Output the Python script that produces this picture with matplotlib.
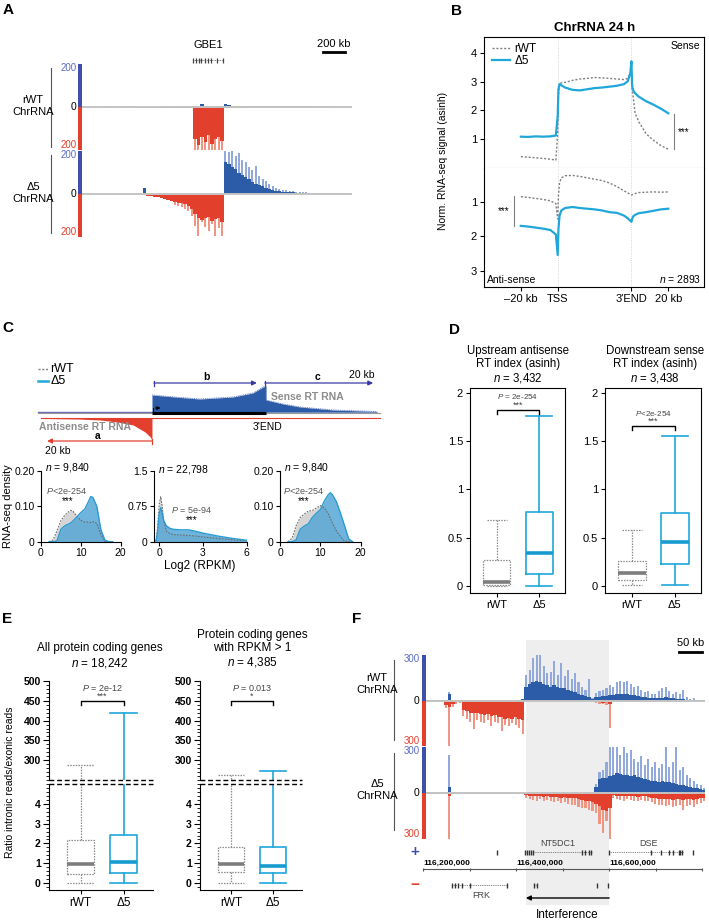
import numpy as np
import matplotlib.pyplot as plt
from matplotlib.patches import Rectangle
from matplotlib.lines import Line2D
from matplotlib.ticker import AutoMinorLocator

plt.rcParams['font.family'] = ['Liberation Sans', 'DejaVu Sans']
plt.rcParams['mathtext.fontset'] = 'custom'
plt.rcParams['mathtext.rm'] = 'Liberation Sans'
plt.rcParams['mathtext.it'] = 'Liberation Sans:italic'
plt.rcParams['axes.linewidth'] = 0.8

# ---------------- data ----------------
# A: GBE1 locus, 30 kb bins (values on a 0-200 scale)
a_bin = 30
a_rwt_plus = [1,0,1,1,0,1,2,1,1,0,1,2,1,1,3,1,1,2,1,1,2,1,1,3,2,1,2,1,2,3,2,2,3,
              3,2,15,4,3,2,2,3,4,
              14,7,6,5,6,5,5,4,5,4,4,5,4,3,4,4,3,4,3,3,4,3,3,3,4,3,3,3,2,3,3,2,3,2,2,3,2,2]
a_rwt_minus = [1,1,0,1,2,1,1,2,3,1,2,2,1,3,2,2,3,2,3,2,4,3,2,3,4,3,4,3,4,5,4,5,6,
               150,175,140,165,130,170,150,140,160,
               4,3,2,3,2,2,3,2,2,1,2,2,1,2,1,2,2,1,2,1,1,2,1,2,1,1,2,1,1,2,1,1,1,2,1,1,1,1]
a_rwt_minus_pk = [0]*33 + [200,200,200,200,200,200,200,200,200] + [0]*38
a_d5_plus = [1,1,2,1,1,2,1,2,1,1,2,2,1,1,2,1,2,1,30,2,1,2,1,2,3,1,2,1,2,2,1,2,1,
             2,1,2,1,2,2,1,2,2,
             150,140,125,115,100,90,80,68,58,48,42,36,30,24,19,16,13,11,9,8,
             7,6,6,5,5,4,4,4,4,3,4,3,3,3,3,3,2,2]
a_d5_plus_pk = [0]*42 + [200,195,200,175,190,160,150,125,110,130,85,72,60,48,36,30,25,20,17,15,
                         12,10,9,8,7,6,6,5,6,5,5,5,4,4,4,4,3,3]
a_d5_minus = [1,2,1,1,2,1,2,1,1,2,1,2,2,1,2,2,3,2,3,
              8,10,13,16,20,24,28,32,36,40,44,48,55,70,
              95,110,120,112,108,125,118,112,130,
              3,2,2,1,2,1,2,1,1,2,1,1,2,1,1,1,2,1,1,1,2,1,1,1,1,2,1,1,1,1,1,1,1,2,1,1,1,1]
a_d5_minus_pk = [0]*27 + [50,58,62,70,80,100] + [150,195,130,155,170,140,195,160,195] + [0]*38
gbe1_exons = [987, 1010, 1040, 1060, 1095, 1120, 1150, 1200, 1253]

# B: metagene profiles (x: -20kb=0, TSS=1, 3'END=3, +20kb=4)
b_x = [0, 0.2, 0.4, 0.6, 0.8, 0.95, 1.0, 1.02, 1.05, 1.1, 1.2, 1.4, 1.6, 1.8, 2.0,
       2.2, 2.4, 2.6, 2.8, 2.9, 2.97, 3.0, 3.02, 3.05, 3.1, 3.2, 3.4, 3.6, 3.8, 4.0]
b_sense_rwt = [0.38, 0.36, 0.34, 0.32, 0.29, 0.26, 1.2, 2.5, 2.95, 2.96, 2.98, 3.05, 3.1, 3.12, 3.15,
               3.14, 3.12, 3.1, 3.08, 3.12, 3.3, 3.45, 2.7, 2.45, 1.9, 1.6, 1.18, 0.95, 0.77, 0.64]
b_sense_d5 = [1.08, 1.07, 1.09, 1.08, 1.09, 1.12, 1.8, 2.75, 2.92, 2.88, 2.8, 2.72, 2.7, 2.74, 2.78,
              2.8, 2.83, 2.86, 2.92, 3.02, 3.3, 3.72, 2.85, 2.7, 2.6, 2.48, 2.32, 2.2, 2.06, 1.9]
b_anti_rwt = [0.85, 0.87, 0.9, 0.93, 0.97, 1.05, 1.5, 0.8, 0.45, 0.3, 0.24, 0.23, 0.26, 0.3, 0.34,
              0.38, 0.45, 0.55, 0.68, 0.74, 0.78, 0.8, 0.79, 0.78, 0.76, 0.73, 0.72, 0.71, 0.72, 0.71]
b_anti_d5 = [1.7, 1.72, 1.75, 1.78, 1.82, 1.95, 2.55, 1.8, 1.4, 1.25, 1.18, 1.15, 1.18, 1.2, 1.22,
             1.25, 1.3, 1.32, 1.4, 1.48, 1.55, 1.58, 1.5, 1.42, 1.38, 1.33, 1.3, 1.26, 1.22, 1.2]

# C: schematic shapes and density curves
sch_sense_x = [0.0, 0.0, 0.4, 0.84, 1.42, 1.77, 1.95, 2.0, 2.0, 2.3, 2.6, 3.18, 3.95]
sch_sense_y = [1, 18, 16, 14, 16, 20, 26, 27, 13, 9, 6, 3, 1.5]
sch_anti_x = [-1.9, -1.3, -0.91, -0.61, -0.33, -0.12, -0.03, 0.0, 0.0]
sch_anti_y = [-5.5, -6, -7, -9, -12, -19, -24, -27, -5.5]

c1_x = [2, 3, 4, 5, 6, 7, 7.5, 8, 9, 10, 11, 12, 12.5, 13, 14, 15, 16, 17, 18]
c1_rwt = [0, 0.005, 0.03, 0.06, 0.075, 0.085, 0.088, 0.086, 0.072, 0.06, 0.055, 0.055, 0.054,
          0.056, 0.052, 0.02, 0, 0, 0]
c1_d5 = [0, 0, 0.002, 0.035, 0.045, 0.05, 0.053, 0.058, 0.07, 0.082, 0.092, 0.115, 0.127,
         0.125, 0.1, 0.035, 0.005, 0, 0]
c2_x = [-0.4, -0.2, -0.1, 0.0, 0.1, 0.2, 0.3, 0.5, 0.75, 1.0, 1.5, 2.0, 2.5, 3.0, 3.5, 4.0,
        4.5, 5.0, 5.5, 6.0]
c2_rwt = [0, 0.05, 0.35, 0.8, 0.95, 0.75, 0.45, 0.22, 0.17, 0.15, 0.14, 0.13, 0.12, 0.1, 0.085,
          0.07, 0.055, 0.04, 0.03, 0.02]
c2_d5 = [0, 0.03, 0.25, 0.6, 0.72, 0.6, 0.45, 0.33, 0.28, 0.26, 0.25, 0.25, 0.22, 0.18, 0.15,
         0.12, 0.095, 0.07, 0.05, 0.03]
c3_x = [2, 3, 4, 5, 6, 7, 8, 9, 10, 11, 12, 12.5, 13, 14, 15, 16, 17, 18]
c3_rwt = [0, 0.01, 0.045, 0.068, 0.078, 0.086, 0.088, 0.095, 0.102, 0.095, 0.078, 0.065, 0.052,
          0.03, 0.014, 0.002, 0, 0]
c3_d5 = [0, 0, 0.005, 0.035, 0.044, 0.05, 0.068, 0.08, 0.09, 0.115, 0.133, 0.138, 0.132, 0.112,
         0.08, 0.045, 0.008, 0]

# D: box stats (whislo, q1, med, q3, whishi)
d1_rwt = [0.0, 0.005, 0.04, 0.27, 0.68]
d1_d5 = [0.0, 0.12, 0.34, 0.77, 1.76]
d2_rwt = [0.01, 0.06, 0.13, 0.26, 0.58]
d2_d5 = [0.01, 0.23, 0.45, 0.76, 1.55]

# E: box stats
e1_rwt = [0.0, 0.48, 0.98, 2.15, 288]
e1_d5 = [0.0, 0.52, 1.05, 2.45, 420]
e2_rwt = [0.0, 0.55, 0.95, 1.82, 262]
e2_d5 = [0.0, 0.5, 0.88, 1.82, 272]

# F: NT5DC1/DSE locus, 7.5 kb bins from 116,208 kb (values on a 0-300 scale)
f_start = 116208
f_bin = 7.5
f_rwt_plus = [1,1,2,1,1,3,45,3,1,1,2,1,1,2,1,1,2,1,1,2,1,1,1,2,1,1,2,10,
              90,110,120,130,120,110,100,90,100,90,85,80,70,65,55,45,35,30,25,
              10,22,25,28,30,35,38,42,45,40,45,38,35,30,25,20,18,15,18,15,
              15,20,18,15,12,10,8,6,3,2,2,2,2]
f_rwt_plus_pk = [0]*6 + [55] + [0]*21 + \
    [170,200,280,300,300,230,180,190,260,170,250,160,200,140,180,120,90,70,140] + \
    [15,50,60,70,80,100,90,125,130,125,130,110,90,95,70,55,60,40,45,60,
     80,90,60,45,55,40,70,25,10,15,5,5,5]
f_rwt_minus = [3,2,3,4,5, 30,40,25,12,10,
               60,70,80,85,80,90,95,90,100,95,110,110,120,115,120,110,120,130,
               2,1,2,1,1,2,1,1,2,1,1,2,1,2,1,1,2,2,3,4,
               8,12,15,12,20,
               2,1,1,2,1,1,1,2,1,1,2,1,1,1,2,1,1,1,1,2,1,1,1,1,1,2,1]
f_rwt_minus_pk = [0]*5 + [50,300,40,20,15] + \
    [100,120,140,190,130,140,150,130,170,140,150,200,160,170,150,160,180,220] + \
    [0]*20 + [15,20,25,30,180] + [0]*27
f_d5_plus = [3,2,3,2,4,3,40,4,3,2,3,2,2,3,2,2,3,2,2,3,2,2,3,2,2,3,2,3,
             3,4,3,4,3,3,4,3,4,3,3,4,3,3,4,3,3,4,3,4,
             40,90,95,100,110,120,130,125,120,115,110,120,105,95,90,85,80,80,75,80,
             75,70,65,60,55,50,45,40,35,30,25,20]
f_d5_plus_pk = [0]*6 + [250] + [0]*41 + \
    [60,140,150,200,300,300,300,250,300,260,280,220,200,240,180,220,170,200,160,190,
     300,170,200,300,150,170,120,100,80,60,50,35]
f_d5_minus = [5,4,6,5,4,8, 20,
              5,6,4,5,6,5,4,6,5,5,6,4,5,6,5,5,6,5,6,7,8,
              15,18,20,22,20,25,22,25,28,25,30,28,30,
              32,35,40,45,50,55,60,70,
              85,110,120,100,
              15,18,20,22,18,20,22,25,20,22,25,
              30,35,38,40,42,40,45,42,40,45,42,40,45,38,35,30]
f_d5_minus_pk = [0]*6 + [300] + [0]*21 + \
    [30,40,45,50,40,55,45,50,60,55,65,60,70] + [75,80,90,95,100,110,120,130] + \
    [200,260,180,300] + [35,40,45,50,40,45,50,55,45,50,55] + \
    [60,70,75,80,85,80,90,85,80,110,85,80,90,70,65,55]
f_shade = (116421, 116600)
f_plus_genes = [(116359, 116359, [116359]),
                (116419, 116566, [116419, 116423, 116428, 116432, 116437, 116541, 116548, 116556, 116562]),
                (116600, 116759, [116600, 116690, 116712, 116728, 116738, 116750, 116753, 116756]),
                (116781, 116781, [116781])]
f_minus_genes = [(116262, 116381, [116262, 116268, 116275, 116284, 116300, 116381]),
                 (116439, 116444, [116439, 116444]),
                 (116574, 116574, [116574]),
                 (116598, 116598, [116598])]
f_coord_ticks = [116200, 116300, 116400, 116500, 116600, 116700, 116800]
f_coord_labels = {116200: '116,200,000', 116400: '116,400,000', 116600: '116,600,000'}

# ---------------- style ----------------
BLUE = '#2c5ba8'
BLUE_LT = '#92aadb'
RED = '#e2402d'
RED_LT = '#ef9584'
BAR_BLUE = '#3f4fae'
TXT_BLUE = '#5a6cc2'
CYAN = '#1fa7da'
GRAY = '#808080'

W, H = 709, 924
fig = plt.figure(figsize=(W / 100, H / 100), dpi=100)


def px_axes(x0, y0, x1, y1):
    return fig.add_axes([x0 / W, 1 - y1 / H, (x1 - x0) / W, (y1 - y0) / H])


def ftext(x, y, s, **kw):
    fig.text(x / W, 1 - y / H, s, **kw)


def fline(x0, y0, x1, y1, **kw):
    fig.add_artist(Line2D([x0 / W, x1 / W], [1 - y0 / H, 1 - y1 / H], **kw))


def track(ax, x0, step, plus, plus_pk, minus, minus_pk, top, xlim, bw, pkw=0.6):
    starts = x0 + step * np.arange(len(plus))
    mids = starts + step * 0.5
    if plus_pk is not None:
        ax.bar(mids, plus_pk, width=step * pkw, color=BLUE_LT, lw=0)
    ax.bar(starts, plus, width=step, align='edge', color=BLUE, lw=0)
    if minus_pk is not None:
        ax.bar(mids, -np.asarray(minus_pk), width=step * pkw, color=RED_LT, lw=0)
    ax.bar(starts, -np.asarray(minus), width=step, align='edge', color=RED, lw=0)
    ax.axhline(0, color='#c4c4c4', lw=1.4, zorder=3)
    ax.set_xlim(*xlim)
    ax.set_ylim(-top, top)
    ax.axis('off')
    ax.add_patch(Rectangle((-bw, 0.5), bw, 0.5, transform=ax.transAxes,
                           color=BAR_BLUE, clip_on=False, lw=0))
    ax.add_patch(Rectangle((-bw, 0), bw, 0.5, transform=ax.transAxes,
                           color=RED, clip_on=False, lw=0))
    ax.text(-bw - 0.006, 1.01, str(top), transform=ax.transAxes, ha='right', va='top',
            color=TXT_BLUE, fontsize=7)
    ax.text(-bw - 0.006, 0.5, '0', transform=ax.transAxes, ha='right', va='center',
            color='black', fontsize=7.5)
    ax.text(-bw - 0.006, 0.0, str(top), transform=ax.transAxes, ha='right', va='bottom',
            color=RED, fontsize=7)


def draw_box(ax, pos, st, wt, width, capw):
    lo, q1, med, q3, hi = st
    stats = [dict(whislo=lo, q1=q1, med=med, q3=q3, whishi=hi)]
    if wt:
        col, ls, lw, mcol = '#8a8a8a', (0, (1.2, 1.0)), 0.9, '#7d7d7d'
    else:
        col, ls, lw, mcol = CYAN, '-', 1.2, '#169bd0'
    ax.bxp(stats, positions=[pos], widths=width, capwidths=capw, showfliers=False,
           boxprops=dict(color=col, ls=ls, lw=lw),
           whiskerprops=dict(color=col, ls=ls, lw=lw),
           capprops=dict(color=col, ls=ls, lw=lw),
           medianprops=dict(color=mcol, lw=2.6, solid_capstyle='butt'))


def bracket(ax, y, d, ptxt, stars, py, sy, pfs=5.8):
    ax.plot([1, 1, 2, 2], [y - d, y, y, y - d], color='black', lw=1.0, clip_on=False)
    ax.text(1.5, py, ptxt, ha='center', va='center', fontsize=pfs, color='#444444')
    ax.text(1.5, sy, stars, ha='center', va='center', fontsize=6.5, color='#444444')


# ---------------- panel letters ----------------
for lt, x, y in [('A', 8, 10), ('B', 456, 11), ('C', 8, 328), ('D', 454, 330),
                 ('E', 7, 619), ('F', 357, 619)]:
    ftext(x, y, lt, fontsize=11, fontweight='bold', ha='center', va='center')

# ---------------- A ----------------
axAa = px_axes(82, 35, 352, 64)
axAa.set_xlim(0, 2400)
axAa.set_ylim(0, 29)
axAa.axis('off')
axAa.plot([gbe1_exons[0], gbe1_exons[-1]], [4, 4], color='#555555', lw=0.6, ls=(0, (1, 1)))
axAa.vlines(gbe1_exons, 1.5, 6.5, color='#444444', lw=0.9)
axAa.text(1120, 19, 'GBE1', ha='center', va='center', fontsize=8)
axAa.plot([2140, 2340], [12, 12], color='black', lw=2)
axAa.text(2240, 20, '200 kb', ha='center', va='center', fontsize=8)

axA1 = px_axes(82, 64, 352, 150)
track(axA1, 0, a_bin, a_rwt_plus, None, a_rwt_minus, a_rwt_minus_pk, 200, (0, 2400), 0.0148)
axA2 = px_axes(82, 151, 352, 237)
track(axA2, 0, a_bin, a_d5_plus, a_d5_plus_pk, a_d5_minus, a_d5_minus_pk, 200, (0, 2400), 0.0148)
ftext(33, 106, 'rWT\nChrRNA', ha='center', va='center', fontsize=8, linespacing=1.15)
ftext(33, 193, 'Δ5\nChrRNA', ha='center', va='center', fontsize=8, linespacing=1.15)
fline(51, 68, 51, 147, color='#555555', lw=0.8)
fline(51, 155, 51, 233, color='#555555', lw=0.8)

# ---------------- B ----------------
axB1 = px_axes(484, 37, 704, 167.5)
axB2 = px_axes(484, 167.5, 704, 287)
for ax in (axB1, axB2):
    ax.set_xlim(-1.0, 4.97)
    ax.axvline(1, color='#c8c8c8', lw=0.6, ls=':')
    ax.axvline(3, color='#c8c8c8', lw=0.6, ls=':')
    ax.tick_params(direction='out', length=3, labelsize=8, pad=2)
axB1.plot(b_x, b_sense_rwt, color=GRAY, ls=(0, (1.5, 1.3)), lw=1.0, label='rWT')
axB1.plot(b_x, b_sense_d5, color=CYAN, lw=1.6, label='Δ5')
axB2.plot(b_x, b_anti_rwt, color=GRAY, ls=(0, (1.5, 1.3)), lw=1.0)
axB2.plot(b_x, b_anti_d5, color=CYAN, lw=1.6)
axB1.set_ylim(0, 4.57)
axB2.set_ylim(3.48, 0)
axB1.set_yticks([1, 2, 3, 4])
axB2.set_yticks([1, 2, 3])
axB1.set_xticks([])
axB2.set_xticks([0, 1, 3, 4])
axB2.set_xticklabels(['–20 kb', 'TSS', "3'END", '20 kb'])
axB1.spines['bottom'].set_color('#999999')
axB2.spines['top'].set_visible(False)
axB1.legend(loc='upper left', bbox_to_anchor=(0.0, 1.02), frameon=False, fontsize=8.5,
            handlelength=1.5, handletextpad=0.4, labelspacing=0.05, borderaxespad=0.3)
axB1.text(0.985, 0.97, 'Sense', transform=axB1.transAxes, ha='right', va='top', fontsize=7.5)
axB2.text(0.015, 0.02, 'Anti-sense', transform=axB2.transAxes, ha='left', va='bottom', fontsize=7.5)
axB2.text(0.985, 0.02, r'$\it{n}$ = 2893', transform=axB2.transAxes, ha='right', va='bottom',
          fontsize=7.5)
axB1.plot([4.16, 4.16], [0.64, 1.86], color=GRAY, lw=0.8)
axB1.text(4.26, 1.25, '***', ha='left', va='center', fontsize=7)
axB2.plot([-0.19, -0.19], [0.84, 1.7], color=GRAY, lw=0.8)
axB2.text(-0.3, 1.27, '***', ha='right', va='center', fontsize=7)
ftext(595, 28, 'ChrRNA 24 h', ha='center', va='center', fontsize=9.5, fontweight='bold')
ftext(443, 161, 'Norm. RNA-seq signal (asinh)', ha='center', va='center', rotation=90,
      fontsize=7.5)

# ---------------- C schematic ----------------
axCs = px_axes(30, 360, 385, 455)
axCs.set_xlim(-2.14, 4.088)
axCs.set_ylim(-42, 53)
axCs.axis('off')
axCs.plot([-2.0, 0], [0.8, 0.8], color='#6b6bb8', lw=1.0)
axCs.plot([-2.0, 4.0], [0, 0], color='#999999', lw=0.8)
axCs.fill_between(sch_sense_x, 0.8, sch_sense_y, color=BLUE, lw=0)
axCs.plot(sch_sense_x[1:], sch_sense_y[1:], color='#5a72b8', lw=0.6, ls=(0, (1.2, 1)))
axCs.plot([-1.95, 4.0], [-5.3, -5.3], color=RED, lw=0.8)
axCs.fill_between(sch_anti_x, -5.3, sch_anti_y, color=RED, lw=0)
axCs.plot([0, 2], [0, 0], color='black', lw=2.2, solid_capstyle='butt')
axCs.plot([0.02, 0.02], [1, 5], color='black', lw=0.7)
axCs.annotate('', xy=(0.2, 5), xytext=(0.01, 5),
              arrowprops=dict(arrowstyle='-|>', color='black', lw=0.7, mutation_scale=5))
# arrows a, b, c
arrb = '#3a3aa6'
axCs.annotate('', xy=(1.84, 30), xytext=(0.035, 30),
              arrowprops=dict(arrowstyle='-|>', color=arrb, lw=0.9, mutation_scale=7,
                              shrinkA=0, shrinkB=0))
axCs.plot([0.035, 0.035], [27.5, 32.5], color=arrb, lw=0.9)
axCs.text(0.95, 36, 'b', ha='center', va='center', fontsize=7.5, fontweight='bold')
axCs.annotate('', xy=(3.88, 30), xytext=(1.98, 30),
              arrowprops=dict(arrowstyle='-|>', color=arrb, lw=0.9, mutation_scale=7,
                              shrinkA=0, shrinkB=0))
axCs.plot([1.98, 1.98], [27.5, 32.5], color=arrb, lw=0.9)
axCs.text(2.91, 36, 'c', ha='center', va='center', fontsize=7.5, fontweight='bold')
axCs.text(3.68, 38, '20 kb', ha='center', va='center', fontsize=7.5)
axCs.annotate('', xy=(-1.84, -28), xytext=(0.0, -28),
              arrowprops=dict(arrowstyle='-|>', color=RED, lw=0.9, mutation_scale=7,
                              shrinkA=0, shrinkB=0))
axCs.plot([0.0, 0.0], [-30.5, -25.5], color=RED, lw=0.9)
axCs.text(-0.95, -23, 'a', ha='center', va='center', fontsize=7.5, fontweight='bold')
axCs.text(-1.65, -38, '20 kb', ha='center', va='center', fontsize=7.5)
axCs.text(2.72, 16, 'Sense RT RNA', ha='center', va='center', fontsize=7.5,
          fontweight='bold', color='#8c8c8c')
axCs.text(-1.17, -14, 'Antisense RT RNA', ha='center', va='center', fontsize=7.5,
          fontweight='bold', color='#8c8c8c')
axCs.text(2.02, -14, "3'END", ha='center', va='center', fontsize=7.5)
# legend
axCs.plot([-2.0, -1.82], [44, 44], color=GRAY, ls=(0, (1.5, 1.2)), lw=1.0)
axCs.plot([-2.0, -1.82], [32, 32], color=CYAN, lw=1.8)
axCs.text(-1.78, 44, 'rWT', ha='left', va='center', fontsize=9)
axCs.text(-1.78, 32, 'Δ5', ha='left', va='center', fontsize=9)


# ---------------- C densities ----------------
def dens(ax, x, rwt, d5):
    ax.fill_between(x, 0, rwt, color='#d5d5d5', lw=0)
    ax.fill_between(x, 0, d5, color='#56a7d6', alpha=0.85, lw=0)
    ax.plot(x, rwt, color='#6a6a6a', ls=(0, (1.5, 1.2)), lw=0.8)
    ax.plot(x, d5, color='#2a9bd2', lw=1.0)
    ax.spines[['top', 'right']].set_visible(False)
    ax.tick_params(direction='out', length=3, labelsize=7.5, pad=1.5)


axC1 = px_axes(41, 470.7, 120.7, 541.7)
dens(axC1, c1_x, c1_rwt, c1_d5)
axC2 = px_axes(154, 470.7, 246.7, 541.7)
dens(axC2, c2_x, c2_rwt, c2_d5)
axC3 = px_axes(280, 470.7, 360.7, 541.7)
dens(axC3, c3_x, c3_rwt, c3_d5)
for ax in (axC1, axC3):
    ax.set_xlim(0, 20)
    ax.set_ylim(0, 0.2)
    ax.set_xticks([0, 10, 20])
    ax.set_yticks([0, 0.1, 0.2])
    ax.set_yticklabels(['0', '0.10', '0.20'])
axC2.set_xlim(-0.36, 6)
axC2.set_ylim(0, 1.5)
axC2.set_xticks([0, 3, 6])
axC2.set_yticks([0, 0.75, 1.5])
axC2.set_yticklabels(['0', '0.75', '1.5'])
ftext(45, 467, r'$\it{n}$ = 9,840', ha='left', va='center', fontsize=7.5)
ftext(158, 469, r'$\it{n}$ = 22,798', ha='left', va='center', fontsize=7.5)
ftext(284, 467, r'$\it{n}$ = 9,840', ha='left', va='center', fontsize=7.5)
ftext(67, 491, r'$\it{P}$<2e-254', ha='center', va='center', fontsize=6.5, color='#555555')
ftext(68, 501, '***', ha='center', va='center', fontsize=7)
ftext(192, 510, r'$\it{P}$ = 5e-94', ha='center', va='center', fontsize=6.5, color='#555555')
ftext(192, 520, '***', ha='center', va='center', fontsize=7)
ftext(304, 491, r'$\it{P}$<2e-254', ha='center', va='center', fontsize=6.5, color='#555555')
ftext(304, 501, '***', ha='center', va='center', fontsize=7)
ftext(8, 506, 'RNA-seq density', ha='center', va='center', rotation=90, fontsize=8)
ftext(200, 566, 'Log2 (RPKM)', ha='center', va='center', fontsize=8.5)

# ---------------- D ----------------
for x0, x1, rwt, d5, title, tx, br in [
        (470, 565, d1_rwt, d1_d5, 'Upstream antisense\nRT index (asinh)\n$\\it{n}$ = 3,432', 518,
         (1.82, r'$\it{P}$ = 2e-254', 1.96, 1.87)),
        (605, 701, d2_rwt, d2_d5, 'Downstream sense\nRT index (asinh)\n$\\it{n}$ = 3,438', 655,
         (1.66, r'$\it{P}$<2e-254', 1.79, 1.71))]:
    ax = px_axes(x0, 388, x1, 592.7)
    draw_box(ax, 1, rwt, True, 0.64, 0.47)
    draw_box(ax, 2, d5, False, 0.64, 0.62)
    ax.set_xlim(0.37, 2.61)
    ax.set_ylim(-0.07, 2.05)
    ax.set_yticks([0, 0.5, 1, 1.5, 2])
    ax.set_yticklabels(['0', '0.5', '1', '1.5', '2'])
    ax.set_xticks([1, 2])
    ax.set_xticklabels(['rWT', 'Δ5'])
    ax.tick_params(direction='out', length=3, labelsize=8, pad=2)
    bracket(ax, br[0], 0.04, br[1], '***', br[2], br[3])
    ftext(tx, 365, title, ha='center', va='center', fontsize=8.3, linespacing=1.12)

# ---------------- E ----------------
for x0, x1, rwt, d5, title, tx, ty, ptxt, stars in [
        (49, 153, e1_rwt, e1_d5, 'All protein coding genes\n$\\it{n}$ = 18,242', 100, 656,
         r'$\it{P}$ = 2e-12', '***'),
        (200, 302, e2_rwt, e2_d5, 'Protein coding genes\nwith RPKM > 1\n$\\it{n}$ = 4,385', 252, 649,
         r'$\it{P}$ = 0.013', '*')]:
    axu = px_axes(x0, 681, x1, 780)
    axl = px_axes(x0, 784, x1, 890)
    for ax in (axu, axl):
        draw_box(ax, 1, rwt, True, 0.62, 0.62)
        draw_box(ax, 2, d5, False, 0.62, 0.62)
        ax.set_xlim(0.27, 2.68)
        ax.spines[['top', 'right']].set_visible(False)
        ax.tick_params(axis='y', which='major', direction='out', length=4, labelsize=7.5, pad=2)
        ax.tick_params(axis='y', which='minor', direction='out', length=2)
    axu.spines['bottom'].set_visible(False)
    axu.set_ylim(250, 500)
    axl.set_ylim(-0.35, 5.0)
    axu.set_xticks([])
    axu.set_yticks([300, 350, 400, 450, 500])
    axu.set_yticklabels(['300', '350', '400', '450', '500'], fontweight='bold')
    axl.set_yticks([0, 1, 2, 3, 4])
    axl.set_yticklabels(['0', '1', '2', '3', '4'], fontweight='bold')
    axu.yaxis.set_minor_locator(AutoMinorLocator(5))
    axl.yaxis.set_minor_locator(AutoMinorLocator(5))
    axl.set_xticks([1, 2])
    axl.set_xticklabels(['rWT', 'Δ5'])
    axl.tick_params(axis='x', direction='out', length=3, labelsize=8.5, pad=2)
    axu.axhline(250, color='black', ls=(0, (3.5, 2)), lw=1.0, clip_on=False)
    axl.axhline(5.0, color='black', ls=(0, (3.5, 2)), lw=1.0, clip_on=False)
    bracket(axu, 449, 9, ptxt, stars, 482, 461, pfs=6.5)
    ftext(tx, ty, title, ha='center', va='center', fontsize=8.5, linespacing=1.15)
ftext(10, 782, 'Ratio intronic reads/exonic reads', ha='center', va='center', rotation=90,
      fontsize=7.5)

# ---------------- F ----------------
f_xlim = (116206.5, 116806)
axFbg = px_axes(426, 640, 705, 905)
axFbg.set_xlim(*f_xlim)
axFbg.set_ylim(0, 265)
axFbg.axis('off')
axFbg.axvspan(f_shade[0], f_shade[1], color='#eeeeee', lw=0)
axFbg.plot([116750, 116800], [253, 253], color='black', lw=2)
axFbg.text(116775, 262, '50 kb', ha='center', va='center', fontsize=8)

axF1 = px_axes(426, 655, 705, 746)
track(axF1, f_start, f_bin, f_rwt_plus, f_rwt_plus_pk, f_rwt_minus, f_rwt_minus_pk, 300, f_xlim, 0.016)
axF2 = px_axes(426, 747, 705, 839)
track(axF2, f_start, f_bin, f_d5_plus, f_d5_plus_pk, f_d5_minus, f_d5_minus_pk, 300, f_xlim, 0.016)
ftext(377, 684, 'rWT\nChrRNA', ha='center', va='center', fontsize=8, linespacing=1.15)
ftext(377, 790, 'Δ5\nChrRNA', ha='center', va='center', fontsize=8, linespacing=1.15)
fline(394, 660, 394, 740, color='#555555', lw=0.8)
fline(394, 753, 394, 830, color='#555555', lw=0.8)

axFa = px_axes(410, 840, 705, 924)
axFa.set_xlim(116200 - 13 / 0.465, 116806)
axFa.set_ylim(0, 84)
axFa.axis('off')
for genes, yy in [(f_plus_genes, 72), (f_minus_genes, 39)]:
    for s, e, ex in genes:
        if e > s:
            axFa.plot([s, e], [yy, yy], color='#555555', lw=0.6, ls=(0, (1, 1.2)))
        axFa.vlines(ex, yy - 2.5, yy + 2.5, color='#333333', lw=1.0)
axFa.text(116183, 72, '+', ha='center', va='center', fontsize=11, fontweight='bold', color=BAR_BLUE)
axFa.text(116183, 39, '−', ha='center', va='center', fontsize=11, fontweight='bold', color=RED)
axFa.plot([116200, 116800], [55, 55], color='#555555', lw=0.8)
axFa.vlines(f_coord_ticks, 53.5, 56.5, color='#555555', lw=0.8)
for pos, lab in f_coord_labels.items():
    axFa.text(pos, 57, lab, ha='left', va='bottom', fontsize=6, fontweight='bold')
axFa.text(116490, 81, 'NT5DC1', ha='center', va='center', fontsize=6.5, color='#444444')
axFa.text(116684, 81, 'DSE', ha='center', va='center', fontsize=6.5, color='#444444')
axFa.text(116325, 29, 'FRK', ha='center', va='center', fontsize=6.5, color='#444444')
axFa.annotate('', xy=(f_shade[0], 26), xytext=(f_shade[1], 26),
              arrowprops=dict(arrowstyle='-|>', color='black', lw=1.0, mutation_scale=7,
                              shrinkA=0, shrinkB=0))
axFa.text(116510, 9, 'Interference', ha='center', va='center', fontsize=8.5)

fig.savefig('out.png', dpi=100)
